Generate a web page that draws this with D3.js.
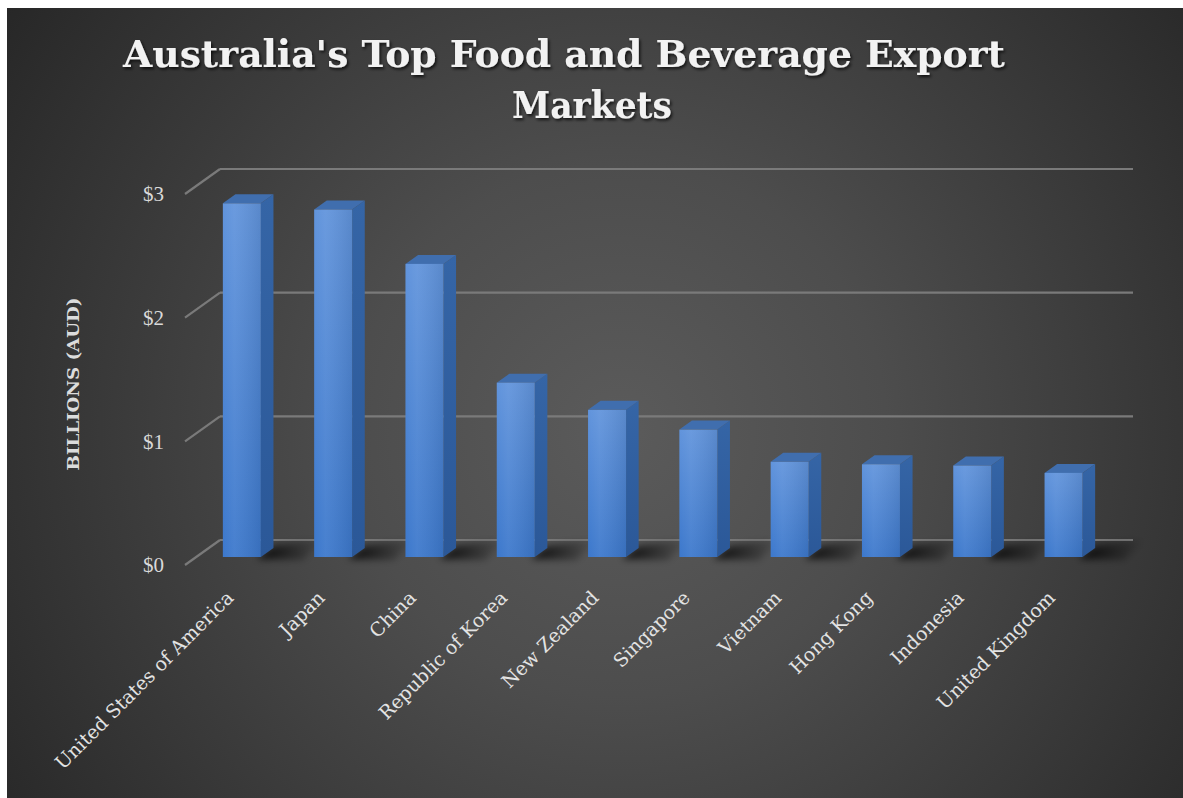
<!DOCTYPE html>
<html>
<head>
<meta charset="utf-8">
<script src="https://cdn.jsdelivr.net/npm/d3@7/dist/d3.min.js"></script>
<style>
  html, body { margin: 0; padding: 0; background: #ffffff; }
  svg { display: block; }
</style>
</head>
<body>
<svg id="chart" width="1183" height="798"></svg>
<script>
// Export values in billions of AUD, by market
const categories = [
  "United States of America", "Japan", "China", "Republic of Korea",
  "New Zealand", "Singapore", "Vietnam", "Hong Kong", "Indonesia", "United Kingdom"
];
const values = [2.86, 2.81, 2.37, 1.41, 1.19, 1.03, 0.77, 0.75, 0.74, 0.68];
const tickValues = [0, 1, 2, 3];
const tickLabels = ["$0", "$1", "$2", "$3"];
const titleLines = ["Australia's Top Food and Beverage Export", "Markets"];
const yAxisTitle = "BILLIONS (AUD)";

const svg = d3.select("#chart");
const defs = svg.append("defs");

// --- background panel ---
const bg = defs.append("radialGradient").attr("id", "bgGrad")
  .attr("gradientUnits", "userSpaceOnUse")
  .attr("cx", 620).attr("cy", 430).attr("r", 760);
bg.append("stop").attr("offset", 0).attr("stop-color", "#5b5b5b");
bg.append("stop").attr("offset", 0.35).attr("stop-color", "#4d4d4d");
bg.append("stop").attr("offset", 1).attr("stop-color", "#262626");

svg.append("rect").attr("x", 7).attr("y", 8).attr("width", 1176).attr("height", 790)
  .attr("fill", "url(#bgGrad)");

// --- filters ---
const ts = defs.append("filter").attr("id", "textShadow")
  .attr("x", "-10%").attr("y", "-30%").attr("width", "120%").attr("height", "160%");
ts.append("feDropShadow").attr("dx", 1.5).attr("dy", 2).attr("stdDeviation", 1.5)
  .attr("flood-color", "#000").attr("flood-opacity", 0.75);

const blur = defs.append("filter").attr("id", "soft")
  .attr("x", "-50%").attr("y", "-100%").attr("width", "200%").attr("height", "300%");
blur.append("feGaussianBlur").attr("stdDeviation", 3.5);

const lineBlur = defs.append("filter").attr("id", "lineSoft");
lineBlur.append("feGaussianBlur").attr("stdDeviation", 0.6);

// --- oblique 3D geometry ---
const depth = { dx: 35, dy: -25 };         // offset from front plane to back wall
const yBack = d3.scaleLinear().domain([0, 3]).range([540, 169]);
const x = d3.scaleBand().domain(categories).range([185, 1098]).paddingInner(0).paddingOuter(0);
const t0 = 0.32, t1 = 0.68;                // bar front / back depth fractions
const barW = 38;

const yAt = (v, t) => yBack(v) + (-depth.dy) * (1 - t);

// --- gridlines on back wall with left-side wall diagonals ---
const grid = svg.append("g").attr("filter", "url(#lineSoft)");
grid.selectAll("line.back").data(tickValues).join("line")
  .attr("class", "back")
  .attr("x1", 185 + depth.dx).attr("x2", 1098 + depth.dx)
  .attr("y1", d => yBack(d)).attr("y2", d => yBack(d))
  .attr("stroke", "#7a7a7a").attr("stroke-width", 2.2);
grid.selectAll("line.side").data(tickValues).join("line")
  .attr("class", "side")
  .attr("x1", 185).attr("y1", d => yAt(d, 0))
  .attr("x2", 185 + depth.dx).attr("y2", d => yBack(d))
  .attr("stroke", "#7a7a7a").attr("stroke-width", 2.2);

// --- gradients for bar faces ---
const fg = defs.append("linearGradient").attr("id", "frontGrad")
  .attr("x1", 0).attr("y1", 0).attr("x2", 0).attr("y2", 1);
fg.append("stop").attr("offset", 0).attr("stop-color", "#6194dc");
fg.append("stop").attr("offset", 1).attr("stop-color", "#3c78cc");

const fgH = defs.append("linearGradient").attr("id", "frontSheen")
  .attr("x1", 0).attr("y1", 0).attr("x2", 1).attr("y2", 0);
fgH.append("stop").attr("offset", 0).attr("stop-color", "#ffffff").attr("stop-opacity", 0.0);
fgH.append("stop").attr("offset", 0.3).attr("stop-color", "#ffffff").attr("stop-opacity", 0.06);
fgH.append("stop").attr("offset", 1).attr("stop-color", "#000000").attr("stop-opacity", 0.08);

const sg = defs.append("linearGradient").attr("id", "sideGrad")
  .attr("x1", 0).attr("y1", 0).attr("x2", 0).attr("y2", 1);
sg.append("stop").attr("offset", 0).attr("stop-color", "#3565a6");
sg.append("stop").attr("offset", 1).attr("stop-color", "#2b5898");

const shG = defs.append("linearGradient").attr("id", "shadowGrad")
  .attr("x1", 0).attr("y1", 0).attr("x2", 1).attr("y2", 0);
shG.append("stop").attr("offset", 0).attr("stop-color", "#000").attr("stop-opacity", 0.85);
shG.append("stop").attr("offset", 1).attr("stop-color", "#000").attr("stop-opacity", 0);

const data = categories.map((c, i) => ({ c, v: values[i] }));
const bars = svg.append("g");

const geom = d => {
  const cx = x(d.c) + x.bandwidth() / 2 + depth.dx * t0;
  const xl = cx - barW / 2, xr = cx + barW / 2;
  const yT = yAt(d.v, t0), yB = yAt(0, t0);
  const ddx = depth.dx * (t1 - t0), ddy = depth.dy * (t1 - t0);
  return { xl, xr, yT, yB, ddx, ddy };
};

// floor shadows cast behind each column
bars.selectAll("path.shadow").data(data).join("path")
  .attr("class", "shadow")
  .attr("filter", "url(#soft)")
  .attr("fill", "url(#shadowGrad)")
  .attr("d", d => {
    const g = geom(d);
    const pts = [
      [g.xr - 4, g.yB + 2],
      [g.xr + g.ddx, g.yB + g.ddy - 2],
      [g.xr + g.ddx + 50, yBack(0) - 1],
      [g.xr + 42, g.yB + 3]
    ];
    return d3.line()(pts) + "Z";
  });

// right side faces
bars.selectAll("path.side").data(data).join("path")
  .attr("class", "side")
  .attr("fill", "url(#sideGrad)")
  .attr("d", d => {
    const g = geom(d);
    return d3.line()([
      [g.xr, g.yT], [g.xr + g.ddx, g.yT + g.ddy],
      [g.xr + g.ddx, g.yB + g.ddy], [g.xr, g.yB]
    ]) + "Z";
  });

// top faces
bars.selectAll("path.top").data(data).join("path")
  .attr("class", "top")
  .attr("fill", "#406eae")
  .attr("d", d => {
    const g = geom(d);
    return d3.line()([
      [g.xl, g.yT], [g.xl + g.ddx, g.yT + g.ddy],
      [g.xr + g.ddx, g.yT + g.ddy], [g.xr, g.yT]
    ]) + "Z";
  });

// front faces
bars.selectAll("rect.front").data(data).join("rect")
  .attr("class", "front")
  .attr("x", d => geom(d).xl).attr("y", d => geom(d).yT)
  .attr("width", barW).attr("height", d => geom(d).yB - geom(d).yT)
  .attr("fill", "url(#frontGrad)");
bars.selectAll("rect.sheen").data(data).join("rect")
  .attr("class", "sheen")
  .attr("x", d => geom(d).xl).attr("y", d => geom(d).yT)
  .attr("width", barW).attr("height", d => geom(d).yB - geom(d).yT)
  .attr("fill", "url(#frontSheen)");

// --- y tick labels on the front plane ---
svg.append("g").selectAll("text").data(tickValues).join("text")
  .attr("x", 164).attr("y", d => yAt(d, 0))
  .attr("dy", "0.35em")
  .attr("text-anchor", "end")
  .attr("font-family", "'Liberation Serif', 'DejaVu Serif', serif")
  .attr("font-size", 21)
  .attr("fill", "#d9d9d9")
  .text((d, i) => tickLabels[i]);

// --- category labels, rotated ---
svg.append("g").selectAll("text").data(categories).join("text")
  .attr("transform", d => `translate(${x(d) + x.bandwidth() / 2 + 4},${599}) rotate(-45)`)
  .attr("text-anchor", "end")
  .attr("font-family", "'DejaVu Serif', 'Liberation Serif', serif")
  .attr("font-size", 19)
  .attr("fill", "#e3e3e3")
  .text(d => d);

// --- y axis title ---
svg.append("text")
  .attr("transform", "translate(79,384) rotate(-90)")
  .attr("text-anchor", "middle")
  .attr("font-family", "'DejaVu Serif', 'Liberation Serif', serif")
  .attr("font-weight", "bold")
  .attr("font-size", 16.5)
  .attr("textLength", 173).attr("lengthAdjust", "spacingAndGlyphs")
  .attr("fill", "#dcdcdc")
  .text(yAxisTitle);

// --- title ---
const title = svg.append("g").attr("filter", "url(#textShadow)");
title.append("text")
  .attr("x", 123).attr("y", 67)
  .attr("font-family", "'DejaVu Serif', 'Liberation Serif', serif")
  .attr("font-weight", "bold")
  .attr("font-size", 38)
  .attr("textLength", 882).attr("lengthAdjust", "spacingAndGlyphs")
  .attr("fill", "#f2f2f2")
  .text(titleLines[0]);
title.append("text")
  .attr("x", 512).attr("y", 118)
  .attr("font-family", "'DejaVu Serif', 'Liberation Serif', serif")
  .attr("font-weight", "bold")
  .attr("font-size", 38)
  .attr("textLength", 160).attr("lengthAdjust", "spacingAndGlyphs")
  .attr("fill", "#f2f2f2")
  .text(titleLines[1]);
</script>
</body>
</html>
